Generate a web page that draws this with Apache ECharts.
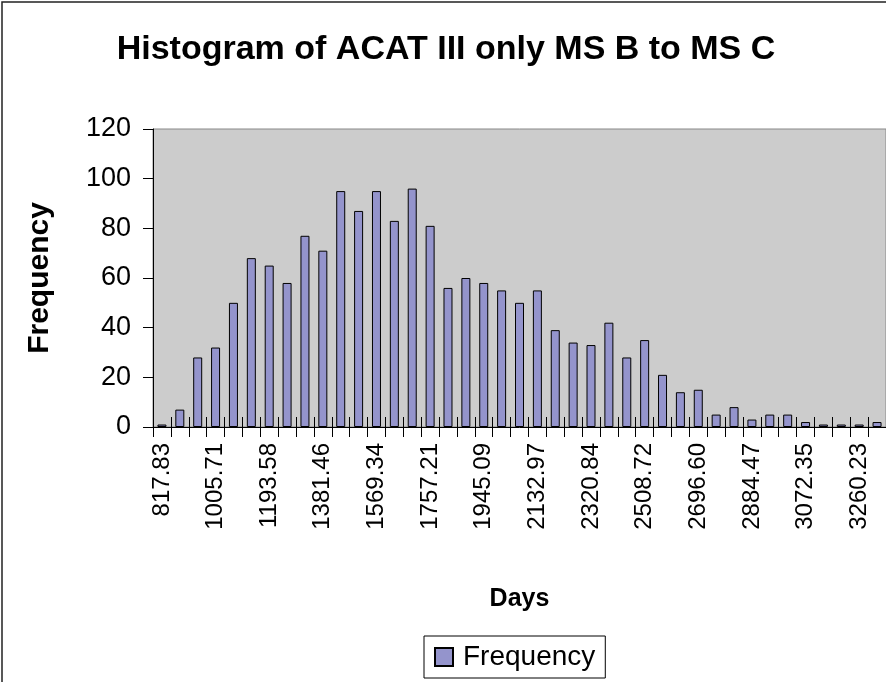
<!DOCTYPE html>
<html>
<head>
<meta charset="utf-8">
<script src="https://cdn.jsdelivr.net/npm/echarts@6/dist/echarts.min.js"></script>
<style>
  html, body { margin: 0; padding: 0; background: #ffffff; }
  #chart { width: 886px; height: 682px; }
</style>
</head>
<body>
<div id="chart"></div>
<script>
// Bin lower bounds (days)
const binLabels = [
  '817.83', '880.46', '943.08', '1005.71', '1068.33', '1130.96', '1193.58',
  '1256.21', '1318.83', '1381.46', '1444.09', '1506.71', '1569.34', '1631.96',
  '1694.59', '1757.21', '1819.84', '1882.47', '1945.09', '2007.72', '2070.34',
  '2132.97', '2195.59', '2258.22', '2320.84', '2383.47', '2446.10', '2508.72',
  '2571.35', '2633.97', '2696.60', '2759.22', '2821.85', '2884.47', '2947.10',
  '3009.73', '3072.35', '3134.98', '3197.60', '3260.23', '3322.85'
];

// Count of programs falling in each bin
const frequency = [
  1, 7, 28, 32, 50, 68, 65, 58, 77, 71, 95, 87, 95, 83, 96, 81, 56, 60, 58, 55,
  50, 55, 39, 34, 33, 42, 28, 35, 21, 14, 15, 5, 8, 3, 5, 5, 2, 1, 1, 1, 2
];

// Value axis ticks
const yTicks = { min: 0, max: 120, step: 20 };

const font = '"Liberation Sans", Arial, sans-serif';

const chart = echarts.init(document.getElementById('chart'), null, { renderer: 'canvas' });

chart.setOption({
  backgroundColor: '#ffffff',
  animation: false,
  title: {
    text: 'Histogram of ACAT III only MS B to MS C',
    left: 441,
    top: 28,
    textAlign: 'center',
    textStyle: { fontFamily: font, fontSize: 34, fontWeight: 'bold', color: '#000' }
  },
  legend: {
    data: ['Frequency'],
    left: 424,
    top: 636,
    orient: 'horizontal',
    icon: 'rect',
    itemWidth: 18,
    itemHeight: 18,
    itemGap: 4,
    padding: [7, 10, 7, 10],
    borderColor: '#000',
    borderWidth: 1,
    textStyle: { fontFamily: font, fontSize: 28, color: '#000', padding: [0, 0, 0, 5] }
  },
  graphic: [{
    type: 'rect',
    shape: { x: 2, y: 2, width: 2000, height: 2000 },
    style: { fill: 'none', stroke: '#222', lineWidth: 1.5 },
    silent: true
  }],
  grid: {
    left: 153,
    top: 129,
    right: -2,
    bottom: 255,
    show: true,
    backgroundColor: '#cccccc',
    borderColor: '#888888',
    borderWidth: 1
  },
  xAxis: [{
    type: 'category',
    data: binLabels,
    name: 'Days',
    nameLocation: 'middle',
    nameGap: 160,
    nameTextStyle: { fontFamily: font, fontSize: 25, fontWeight: 'bold', color: '#000' },
    axisLine: { lineStyle: { color: '#000', width: 1 } },
    axisTick: { show: true, interval: 0, length: 10, lineStyle: { color: '#000' } },
    axisLabel: {
      interval: 2,
      rotate: 90,
      margin: 16,
      fontFamily: font,
      fontSize: 24,
      color: '#000'
    },
    splitLine: { show: false }
  }, {
    // inner half of the crossing tick marks
    type: 'category',
    data: binLabels,
    position: 'bottom',
    axisLine: { show: false },
    axisTick: { show: true, inside: true, interval: 0, length: 10, lineStyle: { color: '#000' } },
    axisLabel: { show: false },
    splitLine: { show: false }
  }],
  yAxis: {
    type: 'value',
    min: yTicks.min,
    max: yTicks.max,
    interval: yTicks.step,
    name: 'Frequency',
    nameLocation: 'middle',
    nameRotate: 90,
    nameGap: 98,
    nameTextStyle: { fontFamily: font, fontSize: 30, fontWeight: 'bold', color: '#000' },
    axisLine: { show: true, lineStyle: { color: '#000', width: 1 } },
    axisTick: { show: true, length: 10, lineStyle: { color: '#000' } },
    axisLabel: { margin: 22, fontFamily: font, fontSize: 27, color: '#000' },
    splitLine: { show: false }
  },
  series: [{
    name: 'Frequency',
    type: 'bar',
    xAxisIndex: 0,
    data: frequency,
    barWidth: 9,
    itemStyle: { color: '#9494cc', borderColor: '#000', borderWidth: 1 }
  }]
});
</script>
</body>
</html>
